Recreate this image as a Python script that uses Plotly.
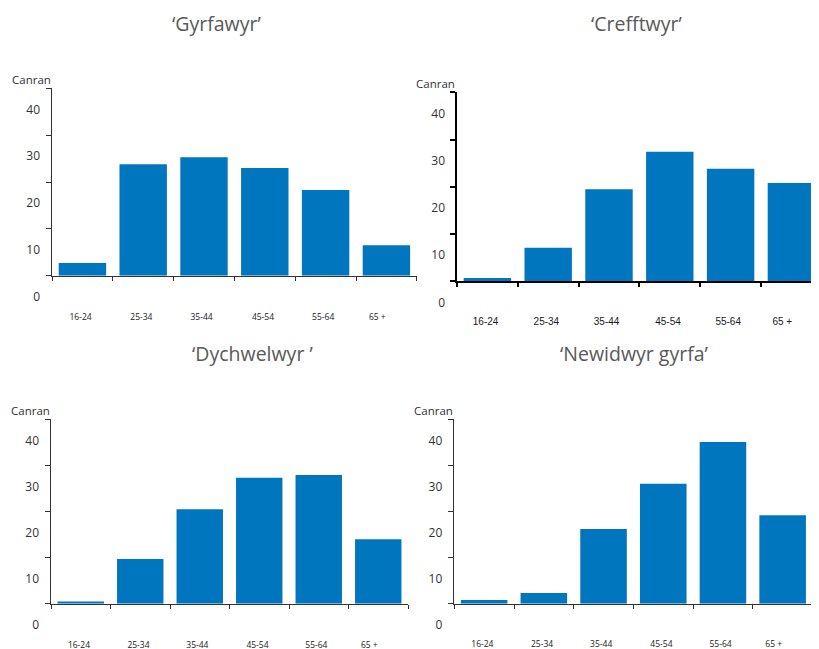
import plotly.graph_objects as go

# page body has an 8px margin; the figure is sized/offset to fill the 819x649 window
OFF = 8
W, H = 819 - OFF, 649 - OFF

# ---------------- data ----------------
categories = ["16-24", "25-34", "35-44", "45-54", "55-64", "65 +"]
titles = ["‘Gyrfawyr’", "‘Crefftwyr’", "‘Dychwelwyr ’", "‘Newidwyr gyrfa’"]
gyrfawyr = [2.7, 23.8, 25.3, 23.0, 18.3, 6.5]
crefftwyr = [0.7, 7.1, 19.5, 27.4, 23.8, 20.8]
dychwelwyr = [0.5, 9.7, 20.5, 27.3, 27.9, 14.0]
newidwyr = [0.8, 2.3, 16.2, 26.0, 35.1, 19.2]
ytick_values = [0, 10, 20, 30, 40]
ytick_labels = ["0", "10", "20", "30", "40"]
y_label = "Canran"

series = [gyrfawyr, crefftwyr, dychwelwyr, newidwyr]

# ---------------- layout (window pixels) ----------------
panels = [
    dict(x0=52, x1=417, ytop=88.3, ybase=275.7, xlab=316, tx=216.7, ty=23,
         lc="#333333", lw=1, xfont="Open Sans", xfs=8.5),
    dict(x0=457, x1=819, ytop=92.3, ybase=281.3, xlab=320, tx=636.7, ty=23,
         lc="#000000", lw=2, xfont="Liberation Sans", xfs=10),
    dict(x0=51, x1=408.3, ytop=419.3, ybase=603.7, xlab=644, tx=252.5, ty=353,
         lc="#333333", lw=1, xfont="Open Sans", xfs=8.5),
    dict(x0=454.3, x1=812.3, ytop=419.3, ybase=603.7, xlab=643, tx=634, ty=353,
         lc="#333333", lw=1, xfont="Open Sans", xfs=8.5),
]
cat_w = [60.8, 60.8, 59.5, 59.7]
xlabel_offsets = [-0.03, -0.03, -0.04, -0.03, -0.04, -0.15]
ylabel_shift_px = 21


def fx(px):
    return (px - OFF) / W


def fy(py):
    return 1 - (py - OFF) / H


fig = go.Figure()
layout = dict(width=W, height=H, margin=dict(l=0, r=0, t=0, b=0),
              paper_bgcolor="white", plot_bgcolor="rgba(0,0,0,0)",
              showlegend=False, bargap=0.22, annotations=[])

for i, (p, vals) in enumerate(zip(panels, series)):
    n = i + 1
    m = i + 5
    xmax = -0.5 + (p["x1"] - p["x0"]) / cat_w[i]
    ppu = (p["ybase"] - p["ytop"]) / 40.0
    xd = [fx(p["x0"]), min(fx(p["x1"]), 1.0)]
    yd = [fy(p["ybase"]), fy(p["ytop"])]
    ybot_px = p["xlab"] - 6
    yd_ext = [fy(ybot_px), fy(p["ytop"])]
    ybot_val = -(ybot_px - p["ybase"]) / ppu

    fig.add_trace(go.Bar(x=categories, y=vals, marker=dict(color="#0076BE", line=dict(width=0)),
                         xaxis=f"x{n}", yaxis=f"y{n}", hoverinfo="skip"))
    fig.add_trace(go.Scatter(x=[None], y=[None], mode="markers", xaxis=f"x{m}", yaxis=f"y{m}",
                             hoverinfo="skip"))

    layout[f"xaxis{n}"] = dict(domain=xd, anchor=f"y{n}", type="category", range=[-0.5, xmax],
                               tickson="boundaries", ticks="outside", ticklen=4, tickcolor=p["lc"],
                               tickwidth=p["lw"], showticklabels=False, showline=True,
                               linecolor=p["lc"], linewidth=p["lw"], showgrid=False, zeroline=False,
                               fixedrange=True)
    layout[f"yaxis{n}"] = dict(domain=yd, anchor=f"x{n}", range=[0, 40], tickvals=ytick_values,
                               ticks="outside", ticklen=5, tickcolor=p["lc"], tickwidth=p["lw"],
                               showticklabels=False, showline=True, linecolor=p["lc"],
                               linewidth=p["lw"], showgrid=False, zeroline=False, fixedrange=True)
    # label axes
    layout[f"xaxis{m}"] = dict(domain=xd, anchor=f"y{m}", range=[-0.5, xmax],
                               tickvals=[k + o for k, o in zip(range(len(categories)), xlabel_offsets)],
                               ticktext=categories, ticks="", showline=False, showgrid=False,
                               zeroline=False, tickfont=dict(family=p["xfont"], size=p["xfs"], color="#1a1a1a"),
                               fixedrange=True)
    layout[f"yaxis{m}"] = dict(domain=yd_ext, anchor=f"x{m}", range=[ybot_val, 40],
                               tickvals=[v - ylabel_shift_px / ppu for v in ytick_values],
                               ticktext=ytick_labels, ticks="", showline=False, showgrid=False,
                               zeroline=False, ticklabelstandoff=11,
                               tickfont=dict(family="Open Sans", size=12, color="#333333"),
                               fixedrange=True)

    layout["annotations"].append(dict(text=titles[i], x=fx(p["tx"]), y=fy(p["ty"]),
                                      xref="paper", yref="paper", xanchor="center", yanchor="middle",
                                      showarrow=False,
                                      font=dict(family="Open Sans", size=19.5, color="#595959")))
    layout["annotations"].append(dict(text=y_label, x=fx(p["x0"] - 21), y=fy(p["ytop"] - 9),
                                      xref="paper", yref="paper", xanchor="center", yanchor="middle",
                                      showarrow=False,
                                      font=dict(family="Open Sans", size=11.5, color="#333333")))

fig.update_layout(**layout)
fig.write_html("out.html")
